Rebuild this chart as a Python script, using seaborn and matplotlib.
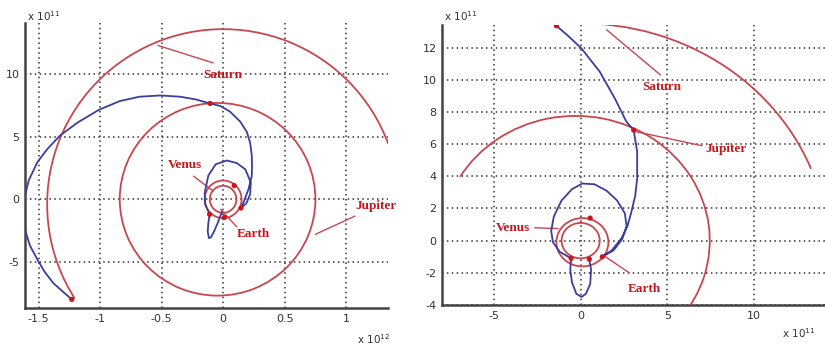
"""Two trajectory panels: spacecraft path (blue) with planet orbits (red)."""

import matplotlib

matplotlib.use("Agg")
import matplotlib.pyplot as plt
import seaborn as sns
from matplotlib.patches import Arc

# ---- data, in units of 1e11 m -------------------------------------------
# left panel
left_traj_x = [-0.1, -0.4, -0.75, -1.0, -1.15, -1.25, -1.2, -1.1, -1.45, -1.5,
               -1.2, -0.6, 0.3, 1.1, 1.8, 2.25, 2.2, 1.9, 1.45,
               1.65, 2.06, 2.33, 2.35, 2.33, 2.2, 1.93, 1.4, 0.57, -0.2, -1.06,
               -2.2, -3.5, -5.1, -6.8, -8.4, -10.1, -11.8, -13.25, -14.3,
               -15.1, -15.8, -16.1, -16.2, -16.1, -15.7, -15.1, -14.5, -13.8,
               -13.0, -12.3]
left_traj_y = [-1.0, -1.8, -2.6, -3.05, -3.1, -2.6, -1.9, -1.2, -0.4, 0.5,
               1.9, 2.8, 3.1, 2.9, 2.4, 1.35, 0.4, -0.3, -0.7,
               -0.27, 0.8, 1.88, 2.7, 3.5, 4.5, 5.38, 6.2, 7.0, 7.45, 7.66,
               7.98, 8.2, 8.3, 8.2, 7.85, 7.15, 6.15, 5.1, 4.0,
               2.96, 1.5, 0.27, -1.0, -2.4, -3.7, -4.8, -5.8, -6.7,
               -7.4, -8.0]
left_planet_x = [-1.06, -12.3, 0.1, 1.45, -1.1, 0.9]
left_planet_y = [7.66, -8.0, -1.45, -0.7, -1.2, 1.1]
# orbits: (centre x, centre y, width, height, theta1, theta2)
left_orbits = [
    (0.0, -0.4, 28.6, 28.0, 19.7, 212.0),   # Saturn
    (-0.45, 0.0, 15.9, 15.4, 0.0, 360.0),   # Jupiter
    (0.0, 0.0, 3.0, 3.0, 0.0, 360.0),       # Earth
    (0.0, 0.0, 2.16, 2.16, 0.0, 360.0),     # Venus
]
left_labels = ["Saturn", "Jupiter", "Venus", "Earth"]
left_label_xy = [(0.0, 9.9), (12.4, -0.55), (-3.1, 2.75), (2.45, -2.8)]
left_leader_from = [(-0.8, 10.9), (10.7, -1.35), (-2.4, 1.85), (1.1, -2.2)]
left_leader_to = [(-5.3, 12.3), (7.5, -2.8), (-0.8, 0.65), (-0.2, -0.8)]
left_xticks = [-15, -10, -5, 0, 5, 10]
left_xtick_labels = ["-1.5", "-1", "-0.5", "0", "0.5", "1"]
left_yticks = [-5, 0, 5, 10]
left_ytick_labels = ["-5", "0", "5", "10"]

# right panel
right_traj_x = [0.5, 0.6, 0.55, 0.3, 0.05, -0.25, -0.5, -0.6, -0.55,
                -1.2, -1.6, -1.7, -1.55, -1.1, -0.5, 0.1, 0.8, 1.5, 2.1, 2.55,
                2.65, 2.4, 1.9, 1.25,
                1.8, 2.35, 2.7, 2.93, 3.15, 3.26, 3.26, 3.06, 2.64, 1.97,
                1.1, 0.04, -0.7, -1.4]
right_traj_y = [-1.2, -1.8, -2.7, -3.3, -3.5, -3.3, -2.6, -1.8, -1.1,
                -0.7, -0.1, 0.6, 1.5, 2.5, 3.2, 3.55, 3.5, 3.1, 2.5, 1.7,
                0.9, 0.1, -0.6, -1.0,
                -0.6, 0.14, 0.9, 1.8, 2.8, 3.87, 5.53, 6.87, 7.39, 8.84,
                10.5, 11.95, 12.7, 13.35]
right_planet_x = [-1.4, 3.06, 0.55, -0.55, 0.5, 1.25]
right_planet_y = [13.35, 6.87, 1.4, -1.1, -1.15, -1.0]
right_orbits = [
    (0.0, -0.8, 28.6, 28.6, 21.6, 95.7),    # Saturn
    (-0.3, 0.0, 15.5, 15.5, -40.0, 149.2),  # Jupiter
    (0.1, -0.1, 3.0, 3.0, 0.0, 360.0),      # Earth
    (0.0, 0.0, 2.2, 2.2, 0.0, 360.0),       # Venus
]
right_labels = ["Saturn", "Jupiter", "Venus", "Earth"]
right_label_xy = [(4.7, 9.55), (8.4, 5.7), (-3.9, 0.8), (3.65, -3.0)]
right_leader_from = [(4.6, 10.3), (7.0, 5.9), (-2.65, 0.8), (2.8, -2.0)]
right_leader_to = [(1.5, 13.1), (3.06, 6.8), (-1.3, 0.75), (1.3, -0.9)]
right_xticks = [-5, 0, 5, 10]
right_xtick_labels = ["-5", "0", "5", "10"]
right_yticks = [-4, -2, 0, 2, 4, 6, 8, 10, 12]
right_ytick_labels = ["-4", "-2", "0", "2", "4", "6", "8", "10", "12"]

ORBIT_RED = "#c8464e"
PATH_BLUE = "#3a3f9e"
TEXT_RED = "#c4161c"

sns.set_theme(style="white")
plt.rcParams["font.family"] = ["DejaVu Sans"]

fig = plt.figure(figsize=(8.25, 3.47), dpi=100)
ax_left = fig.add_axes([0.0303, 0.112, 0.4400, 0.822])
ax_right = fig.add_axes([0.5358, 0.121, 0.4642, 0.807])


def draw_panel(ax, tx, ty, px, py, orbits, labels, label_xy, lfrom, lto):
    for cx, cy, w, h, t1, t2 in orbits:
        ax.add_patch(Arc((cx, cy), w, h, theta1=t1, theta2=t2,
                         color=ORBIT_RED, lw=1.3, zorder=3))
    sns.lineplot(x=tx, y=ty, sort=False, estimator=None, color=PATH_BLUE,
                 lw=1.3, ax=ax, zorder=4)
    sns.scatterplot(x=px, y=py, color="#d0101a", s=14, edgecolor="none",
                    ax=ax, zorder=5)
    for text, (lx, ly), a, b in zip(labels, label_xy, lfrom, lto):
        ax.plot([a[0], b[0]], [a[1], b[1]], color=ORBIT_RED, lw=1.0, zorder=3)
        ax.text(lx, ly, text, color=TEXT_RED, fontsize=9.5, fontweight="bold",
                family="Liberation Serif", ha="center", va="center", zorder=6)
    ax.grid(True, color="#333333", linestyle=(0, (1, 2.2)), lw=1.1)
    ax.set_axisbelow(True)
    for side in ("top", "right"):
        ax.spines[side].set_visible(False)
    for side in ("left", "bottom"):
        ax.spines[side].set_color("#444444")
        ax.spines[side].set_linewidth(1.8)
    ax.tick_params(length=0, labelsize=8, colors="#333333", pad=4)


draw_panel(ax_left, left_traj_x, left_traj_y, left_planet_x, left_planet_y,
           left_orbits, left_labels, left_label_xy, left_leader_from,
           left_leader_to)
ax_left.set_xlim(-16.1, 13.4)
ax_left.set_ylim(-8.7, 14.1)
ax_left.set_xticks(left_xticks, left_xtick_labels)
ax_left.set_yticks(left_yticks, left_ytick_labels)

draw_panel(ax_right, right_traj_x, right_traj_y, right_planet_x,
           right_planet_y, right_orbits, right_labels, right_label_xy,
           right_leader_from, right_leader_to)
ax_right.set_xlim(-8.0, 14.1)
ax_right.set_ylim(-4.0, 13.4)
ax_right.set_xticks(right_xticks, right_xtick_labels)
ax_right.set_yticks(right_yticks, right_ytick_labels)

# axis multipliers
fig.text(0.033, 0.955, r"x 10$^{11}$", fontsize=7.5, color="#333333",
         va="center")
fig.text(0.538, 0.955, r"x 10$^{11}$", fontsize=7.5, color="#333333",
         va="center")
fig.text(0.433, 0.022, r"x 10$^{12}$", fontsize=7.5, color="#333333",
         va="center")
fig.text(0.948, 0.04, r"x 10$^{11}$", fontsize=7.5, color="#333333",
         va="center")

fig.savefig("out.png", dpi=100)
